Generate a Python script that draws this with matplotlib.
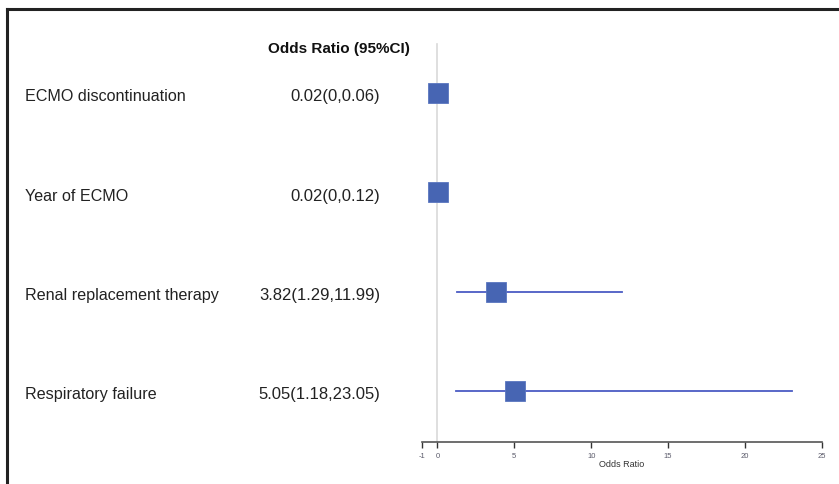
import matplotlib.pyplot as plt
from matplotlib.lines import Line2D

plt.rcParams['font.family'] = ['Liberation Sans', 'DejaVu Sans']

# Forest plot data
labels = ['ECMO discontinuation', 'Year of ECMO', 'Renal replacement therapy', 'Respiratory failure']
odds = [0.02, 0.02, 3.82, 5.05]
lower = [0.0, 0.0, 1.29, 1.18]
upper = [0.06, 0.12, 11.99, 23.05]
ci_text = ['0.02(0,0.06)', '0.02(0,0.12)', '3.82(1.29,11.99)', '5.05(1.18,23.05)']
box_sizes = [15.0, 14.5, 14.5, 14.5]
xticks = [-1, 0, 5, 10, 15, 20, 25]

W, H = 839, 485
fig = plt.figure(figsize=(W / 100, H / 100), dpi=100)

# plot area in pixel coords: x from 422 to 822, y from 43 to 443
ax = fig.add_axes([422 / W, 1 - 443 / H, 400 / W, 400 / H])
ax.set_xlim(-1, 25)
ax.set_ylim(0.486, 4.51)

rows = [4, 3, 2, 1]
# reference line at OR = 0
ax.plot([0, 0], [0.486, 4.49], color='#d9d9d9', lw=1.2, zorder=1)

for y, o, lo, hi, s in zip(rows, odds, lower, upper, box_sizes):
    ax.plot([lo, hi], [y, y], color='#4b5cc4', lw=1.3, zorder=2)
    ax.plot(o, y, marker='s', markersize=s, color='#4765b3',
            markeredgecolor='#5a76c0', markeredgewidth=0.6, zorder=3)

for side in ['top', 'right', 'left']:
    ax.spines[side].set_visible(False)
ax.spines['bottom'].set_color('#555555')
ax.spines['bottom'].set_linewidth(1.2)
ax.set_yticks([])
ax.set_xticks(xticks)
ax.set_xticklabels([str(t) for t in xticks])
ax.tick_params(axis='x', direction='out', length=4, width=1, color='#333333',
               labelsize=5.5, labelcolor='#5a5a6a', pad=3)
ax.set_xlabel('Odds Ratio', fontsize=6.5, color='#333333', labelpad=0)

# left text columns
fig.text(339 / W, 1 - 48 / H, 'Odds Ratio (95%CI)', ha='center', va='center_baseline',
         fontsize=11, fontweight='bold', color='#111111')
for y_px, lab, ci in zip([95, 195, 294, 393], labels, ci_text):
    fig.text(25 / W, 1 - y_px / H, lab, ha='left', va='center_baseline', fontsize=11.6, color='#222222')
    fig.text(380 / W, 1 - y_px / H, ci, ha='right', va='center_baseline', fontsize=12, color='#222222')

# frame lines (top and left only)
fig.add_artist(Line2D([6.5 / W, 6.5 / W], [0, 1 - 10 / H], transform=fig.transFigure, color='#222222', lw=2.2))
fig.add_artist(Line2D([6.5 / W, 1], [1 - 10 / H, 1 - 10 / H], transform=fig.transFigure, color='#222222', lw=2.2))

fig.savefig('out.png', dpi=100)
